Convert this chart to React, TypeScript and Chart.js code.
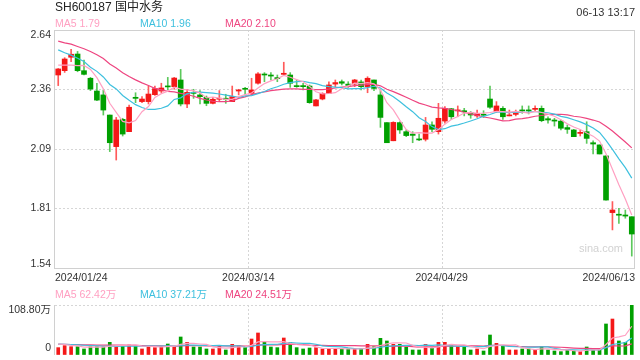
import React, { useEffect, useRef } from 'react';
import { Chart, registerables } from 'chart.js';

Chart.register(...registerables);

// ---------- data ----------
const opens = [
  2.432, 2.452, 2.514, 2.529, 2.452, 2.417, 2.358, 2.340, 2.247, 2.101,
  2.227, 2.170, 2.329, 2.309, 2.309, 2.341, 2.358, 2.381, 2.378, 2.409,
  2.298, 2.352, 2.340, 2.329, 2.301, 2.320, 2.324, 2.309, 2.358, 2.370,
  2.347, 2.394, 2.435, 2.432, 2.420, 2.435, 2.432, 2.383, 2.383, 2.381,
  2.289, 2.321, 2.347, 2.390, 2.401, 2.390, 2.390, 2.400, 2.378, 2.409,
  2.340, 2.212, 2.128, 2.212, 2.170, 2.159, 2.136, 2.135, 2.201, 2.170,
  2.219, 2.276, 2.266, 2.267, 2.258, 2.243, 2.250, 2.321, 2.263, 2.278,
  2.243, 2.250, 2.270, 2.270, 2.273, 2.278, 2.230, 2.224, 2.219, 2.189,
  2.178, 2.162, 2.170, 2.119, 2.109, 2.058, 1.796, 1.788, 1.785, 1.777,
];
const highs = [
  2.462, 2.512, 2.551, 2.541, 2.501, 2.421, 2.394, 2.363, 2.247, 2.236,
  2.232, 2.293, 2.350, 2.332, 2.381, 2.381, 2.394, 2.421, 2.421, 2.458,
  2.366, 2.366, 2.360, 2.335, 2.329, 2.360, 2.343, 2.381, 2.366, 2.375,
  2.417, 2.443, 2.443, 2.443, 2.432, 2.491, 2.443, 2.409, 2.394, 2.386,
  2.320, 2.350, 2.401, 2.409, 2.409, 2.401, 2.412, 2.409, 2.424, 2.409,
  2.363, 2.212, 2.216, 2.216, 2.178, 2.170, 2.159, 2.236, 2.216, 2.301,
  2.286, 2.278, 2.289, 2.278, 2.263, 2.270, 2.267, 2.381, 2.309, 2.286,
  2.270, 2.270, 2.289, 2.289, 2.289, 2.289, 2.239, 2.232, 2.224, 2.201,
  2.181, 2.178, 2.216, 2.128, 2.109, 2.058, 1.847, 1.816, 1.808, 1.777,
];
const lows = [
  2.383, 2.444, 2.494, 2.447, 2.432, 2.360, 2.313, 2.247, 2.078, 2.039,
  2.150, 2.170, 2.304, 2.304, 2.298, 2.338, 2.350, 2.363, 2.366, 2.289,
  2.281, 2.324, 2.298, 2.290, 2.298, 2.309, 2.301, 2.309, 2.340, 2.340,
  2.344, 2.390, 2.401, 2.409, 2.401, 2.432, 2.375, 2.375, 2.363, 2.301,
  2.289, 2.317, 2.347, 2.378, 2.386, 2.375, 2.378, 2.363, 2.350, 2.360,
  2.190, 2.119, 2.128, 2.162, 2.147, 2.119, 2.128, 2.127, 2.170, 2.159,
  2.209, 2.227, 2.239, 2.243, 2.232, 2.236, 2.236, 2.278, 2.258, 2.227,
  2.243, 2.243, 2.255, 2.252, 2.263, 2.216, 2.209, 2.196, 2.178, 2.162,
  2.147, 2.150, 2.116, 2.067, 2.067, 1.854, 1.716, 1.746, 1.770, 1.595,
];
const closes = [
  2.460, 2.506, 2.528, 2.452, 2.435, 2.367, 2.316, 2.270, 2.119, 2.224,
  2.159, 2.283, 2.324, 2.321, 2.344, 2.369, 2.372, 2.377, 2.418, 2.298,
  2.352, 2.347, 2.332, 2.301, 2.320, 2.324, 2.320, 2.332, 2.363, 2.366,
  2.363, 2.437, 2.432, 2.427, 2.415, 2.440, 2.394, 2.378, 2.378, 2.304,
  2.317, 2.347, 2.386, 2.397, 2.394, 2.384, 2.409, 2.378, 2.417, 2.370,
  2.236, 2.119, 2.213, 2.178, 2.152, 2.153, 2.132, 2.201, 2.181, 2.232,
  2.278, 2.239, 2.270, 2.262, 2.247, 2.255, 2.246, 2.283, 2.289, 2.239,
  2.247, 2.263, 2.266, 2.266, 2.278, 2.221, 2.224, 2.219, 2.186, 2.181,
  2.147, 2.167, 2.139, 2.113, 2.067, 1.854, 1.808, 1.784, 1.780, 1.697,
];
// volume, in 万 (10k) shares
const volumes = [
  16.0, 20.3, 18.1, 18.1, 13.1, 18.1, 18.1, 18.1, 27.6, 20.3,
  20.3, 21.8, 20.3, 13.1, 19.6, 16.0, 18.1, 23.9, 18.1, 39.2,
  27.6, 17.4, 17.4, 13.1, 13.1, 19.6, 10.9, 23.2, 20.3, 16.0,
  34.8, 47.9, 27.6, 17.4, 16.0, 37.0, 27.6, 16.0, 13.1, 15.2,
  16.0, 13.1, 13.1, 13.1, 13.1, 13.1, 13.1, 13.1, 23.2, 18.1,
  36.3, 30.5, 23.2, 23.2, 17.4, 10.9, 10.9, 23.2, 16.0, 27.6,
  27.6, 20.3, 18.1, 17.4, 10.9, 13.1, 8.7, 43.5, 25.4, 20.3,
  10.9, 10.9, 13.1, 13.1, 10.9, 18.1, 10.9, 8.7, 7.3, 10.9,
  8.7, 7.3, 17.4, 10.9, 10.9, 67.5, 78.3, 30.5, 27.6, 108.8,
];
// sessions before the first visible day (estimated from where the MA lines start)
const priorCloses = [
  2.66, 2.65, 2.67, 2.64, 2.62, 2.63, 2.61, 2.62, 2.60, 2.59,
  2.64, 2.634, 2.60, 2.587, 2.629, 2.506, 2.528, 2.467, 2.429,
];
const priorVolumes = [
  24, 20, 26, 22, 19, 25, 21, 23, 27, 20,
  24, 22, 26, 21, 23, 25, 28, 24, 26,
];

const categories = closes.map((_, i) => String(i));
const dateTickValues = [-0.5, 29.5, 59.5, 89.5];
const dateTickLabels = ['2024/01/24', '2024/03/14', '2024/04/29', '2024/06/13'];
const priceTicks = [1.54, 1.815, 2.09, 2.365, 2.64];
const priceTickLabels = ['1.54', '1.81', '2.09', '2.36', '2.64'];
const volumeTicks = [0, 108.8];
const volumeTickLabels = ['0', '108.80万'];
const maPeriods = [5, 10, 20];
const priceLegend = ['MA5 1.79', 'MA10 1.96', 'MA20 2.10'];
const volumeLegend = ['MA5 62.42万', 'MA10 37.21万', 'MA20 24.51万'];
const titleText = 'SH600187 国中水务';
const timeText = '06-13 13:17';
const watermark = 'sina.com';

// ---------- styles ----------
const FONT = '"Liberation Sans", Arial, "Noto Sans CJK SC", sans-serif';
const f = (px: number) => `${px}px ${FONT}`;
const RED = '#f41818';
const GREEN = '#00a000';
const RED_WICK = '#ff5a5a';
const GREEN_WICK = '#5cc85c';
const MA_COLORS = ['#ffa0c2', '#3ec0de', '#ee4580'];
const GRID = '#d6d6d6';
const FRAME = '#d0d0d0';
const TEXT = '#333333';

function movingAverage(series: number[], prior: number[], n: number): number[] {
  const all = prior.concat(series);
  const off = prior.length;
  return series.map((_, i) => {
    let s = 0;
    for (let k = 0; k < n; k++) s += all[off + i - k];
    return s / n;
  });
}

const up = closes.map((c, i) => c >= opens[i]);

function drawVerticalGrid(chart: any) {
  const { ctx, chartArea: a, scales } = chart;
  ctx.save();
  ctx.strokeStyle = GRID;
  ctx.lineWidth = 1;
  ctx.setLineDash([2, 2]);
  dateTickValues.slice(1, -1).forEach((v) => {
    const x = Math.round(scales.x.getPixelForValue(v)) + 0.5;
    ctx.beginPath();
    ctx.moveTo(x, a.top);
    ctx.lineTo(x, a.bottom);
    ctx.stroke();
  });
  ctx.restore();
}

export default function App() {
  const mainRef = useRef<HTMLCanvasElement>(null);
  const volRef = useRef<HTMLCanvasElement>(null);

  useEffect(() => {
    const priceMA = maPeriods.map((n) => movingAverage(closes, priorCloses, n));
    const volMA = maPeriods.map((n) => movingAverage(volumes, priorVolumes, n));

    const mainPlugin = {
      id: 'mainDecor',
      beforeDatasetsDraw(chart: any) {
        const { ctx, chartArea: a } = chart;
        drawVerticalGrid(chart);
        ctx.save();
        ctx.strokeStyle = FRAME;
        ctx.lineWidth = 1;
        ctx.strokeRect(Math.round(a.left) - 0.5, Math.round(a.top) + 0.5, Math.round(a.right - a.left), Math.round(a.bottom - a.top));
        ctx.restore();
      },
      afterDraw(chart: any) {
        const { ctx, chartArea: a, scales } = chart;
        ctx.save();
        ctx.textBaseline = 'middle';
        ctx.textAlign = 'left';
        ctx.font = f(12);
        ctx.fillStyle = '#222222';
        ctx.fillText(titleText, a.left, 8);
        ctx.font = f(11);
        ctx.textAlign = 'right';
        ctx.fillStyle = TEXT;
        ctx.fillText(timeText, a.right, 12.5);
        ctx.font = f(10.5);
        ctx.textAlign = 'left';
        priceLegend.forEach((t, i) => {
          ctx.fillStyle = MA_COLORS[i];
          ctx.fillText(t, a.left + i * 85, 24.5);
        });
        // y labels
        ctx.fillStyle = TEXT;
        ctx.textAlign = 'right';
        priceTicks.forEach((v, i) => {
          let y = scales.y.getPixelForValue(v);
          y = Math.min(Math.max(y, a.top + 5), a.bottom - 4);
          ctx.fillText(priceTickLabels[i], a.left - 4, y);
        });
        // date labels
        dateTickValues.forEach((v, i) => {
          const x = scales.x.getPixelForValue(v);
          ctx.textAlign = i === 0 ? 'left' : i === dateTickValues.length - 1 ? 'right' : 'center';
          ctx.fillText(dateTickLabels[i], x, a.bottom + 10);
        });
        // watermark
        ctx.font = f(11);
        ctx.fillStyle = '#d2d2d2';
        ctx.textAlign = 'right';
        ctx.fillText(watermark, a.right - 12, a.bottom - 19);
        ctx.restore();
      },
    };

    const main = new Chart(mainRef.current as HTMLCanvasElement, {
      type: 'bar',
      data: {
        labels: categories,
        datasets: [
          ...priceMA.map((d, i) => ({
            type: 'line' as const,
            label: priceLegend[i],
            data: d,
            borderColor: MA_COLORS[i],
            borderWidth: 1.2,
            pointRadius: 0,
            tension: 0,
            order: 0,
          })),
          {
            type: 'bar' as const,
            label: 'body',
            data: opens.map((o, i) => [o, closes[i]]),
            backgroundColor: up.map((u) => (u ? RED : GREEN)),
            barThickness: 5,
            minBarLength: 1,
            grouped: false,
            order: 1,
          },
          {
            type: 'bar' as const,
            label: 'wick',
            data: lows.map((l, i) => [l, highs[i]]),
            backgroundColor: up.map((u) => (u ? RED_WICK : GREEN_WICK)),
            barThickness: 1,
            grouped: false,
            order: 2,
          },
        ] as any,
      },
      options: {
        responsive: false,
        animation: false,
        events: [],
        layout: { padding: { top: 30, right: 5, left: 0, bottom: 22 } },
        plugins: { legend: { display: false }, tooltip: { enabled: false } },
        scales: {
          x: { type: 'category', display: false, offset: true },
          y: {
            type: 'linear',
            min: 1.54,
            max: 2.64,
            afterBuildTicks: (s: any) => {
              s.ticks = priceTicks.map((v) => ({ value: v }));
            },
            ticks: { display: false },
            grid: {
              drawTicks: false,
              color: (c: any) => (c.index === 0 || c.index === priceTicks.length - 1 ? 'rgba(0,0,0,0)' : GRID),
            },
            border: { display: false, dash: [2, 2] },
            afterFit: (s: any) => {
              s.width = 55;
            },
          },
        } as any,
      },
      plugins: [mainPlugin],
    } as any);

    const volPlugin = {
      id: 'volDecor',
      beforeDatasetsDraw(chart: any) {
        const { ctx, chartArea: a } = chart;
        drawVerticalGrid(chart);
        ctx.save();
        ctx.strokeStyle = FRAME;
        ctx.lineWidth = 1;
        ctx.beginPath();
        const x = Math.round(a.left) - 0.5;
        ctx.moveTo(x, a.top);
        ctx.lineTo(x, a.bottom);
        ctx.stroke();
        ctx.restore();
      },
      afterDraw(chart: any) {
        const { ctx, chartArea: a, scales } = chart;
        ctx.save();
        ctx.textBaseline = 'middle';
        ctx.font = f(10.5);
        ctx.textAlign = 'left';
        volumeLegend.forEach((t, i) => {
          ctx.fillStyle = MA_COLORS[i];
          ctx.fillText(t, a.left + i * 85, a.top - 9.5);
        });
        ctx.fillStyle = TEXT;
        ctx.textAlign = 'right';
        volumeTicks.forEach((v, i) => {
          let y = scales.y.getPixelForValue(v);
          y = Math.min(Math.max(y, a.top + 5), a.bottom - 7);
          ctx.fillText(volumeTickLabels[i], a.left - 4, y);
        });
        ctx.restore();
      },
    };

    const vol = new Chart(volRef.current as HTMLCanvasElement, {
      type: 'bar',
      data: {
        labels: categories,
        datasets: [
          ...volMA.map((d, i) => ({
            type: 'line' as const,
            label: volumeLegend[i],
            data: d,
            borderColor: MA_COLORS[i],
            borderWidth: 1.2,
            pointRadius: 0,
            tension: 0,
            order: 0,
          })),
          {
            type: 'bar' as const,
            label: 'volume',
            data: volumes,
            backgroundColor: up.map((u) => (u ? RED : GREEN)),
            barThickness: 3,
            grouped: false,
            order: 1,
          },
        ] as any,
      },
      options: {
        responsive: false,
        animation: false,
        events: [],
        layout: { padding: { top: 25, right: 5, left: 0, bottom: 5 } },
        plugins: { legend: { display: false }, tooltip: { enabled: false } },
        scales: {
          x: { type: 'category', display: false, offset: true },
          y: {
            type: 'linear',
            min: volumeTicks[0],
            max: volumeTicks[1],
            afterBuildTicks: (s: any) => {
              s.ticks = volumeTicks.map((v) => ({ value: v }));
            },
            ticks: { display: false },
            grid: {
              drawTicks: false,
              color: (c: any) => (c.index === volumeTicks.length - 1 ? GRID : 'rgba(0,0,0,0)'),
            },
            border: { display: false, dash: [2, 2] },
            afterFit: (s: any) => {
              s.width = 55;
            },
          },
        } as any,
      },
      plugins: [volPlugin],
    } as any);

    return () => {
      main.destroy();
      vol.destroy();
    };
  }, []);

  return (
    <div style={{ position: 'fixed', left: 0, top: 0, width: 640, height: 360, background: '#ffffff', overflow: 'hidden' }}>
      <canvas ref={mainRef} width={640} height={290} style={{ position: 'absolute', left: 0, top: 0, width: 640, height: 290 }} />
      <canvas ref={volRef} width={640} height={80} style={{ position: 'absolute', left: 0, top: 280, width: 640, height: 80 }} />
    </div>
  );
}
